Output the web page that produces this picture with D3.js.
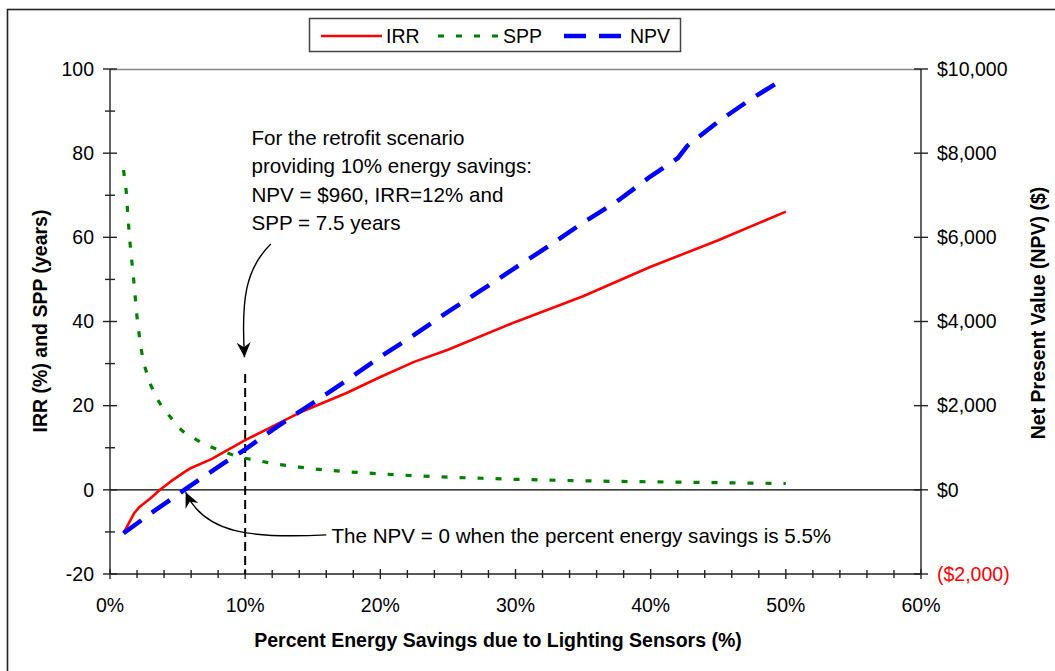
<!DOCTYPE html>
<html>
<head>
<meta charset="utf-8">
<script src="https://cdn.jsdelivr.net/npm/d3@7"></script>
<style>
  html, body { margin: 0; padding: 0; background: #fff; }
  svg { display: block; font-family: "Liberation Sans", Arial, sans-serif; }
</style>
</head>
<body>
<svg id="chart" width="1055" height="671"></svg>
<script>
// ---- data ----
const irrX = [1, 1.8, 2.2, 3, 3.7, 4.5, 5.5, 6, 7.5, 10, 12, 14, 17.5, 20, 22.5, 25, 30, 35, 40, 45, 50];
const irrY = [-10.3, -5.5, -4, -2, 0, 2, 4.2, 5.2, 7.3, 11.8, 15, 18.3, 23, 26.8, 30.4, 33.3, 39.9, 46, 53, 59.3, 66.1];

const sppX = [1, 1.2, 1.35, 1.5, 1.75, 2, 2.25, 2.5, 3, 3.5, 4, 4.5, 5, 5.5, 6, 7, 8, 9, 10, 11, 12, 13, 14, 15, 17.5, 20, 22.5, 25, 27.5, 30, 32.5, 35, 37.5, 40, 42.5, 45, 47.5, 50];
const sppY = [76, 71, 64, 58, 50, 41, 34.5, 30, 25, 21.5, 19, 17.2, 15, 13.6, 12.6, 10.8, 9.5, 8.4, 7.5, 6.9, 6.3, 5.8, 5.4, 5.0, 4.3, 3.8, 3.35, 3.0, 2.75, 2.5, 2.3, 2.15, 2.0, 1.9, 1.8, 1.7, 1.6, 1.5];

const npvX = [1, 2, 3, 4, 5.5, 7, 8.5, 10, 12, 14, 15, 17.5, 20, 22.5, 25, 27.5, 30, 32.5, 35, 37.5, 40, 42, 42.7, 45, 47.3, 50];
const npvY = [-1030, -800, -560, -340, 0, 330, 650, 960, 1420, 1850, 2060, 2600, 3160, 3680, 4230, 4750, 5280, 5800, 6350, 6850, 7450, 7880, 8170, 8750, 9260, 9800];

const xTicks = [0, 10, 20, 30, 40, 50, 60];
const leftTicks = [-20, 0, 20, 40, 60, 80, 100];
const rightTicks = [-2000, 0, 2000, 4000, 6000, 8000, 10000];
const seriesNames = ["IRR", "SPP", "NPV"];

const note1 = ["For the retrofit scenario", "providing 10% energy savings:", "NPV = $960, IRR=12% and", "SPP = 7.5 years"];
const note2 = "The NPV = 0 when the percent energy savings is 5.5%";

// ---- layout ----
const svg = d3.select("#chart");
const L = 110, R = 921, T = 69, B = 574;
const x = d3.scaleLinear().domain([0, 60]).range([L, R]);
const yL = d3.scaleLinear().domain([-20, 100]).range([B, T]);
const yR = d3.scaleLinear().domain([-2000, 10000]).range([B, T]);
const FS = 19.5;
const AFS = 20.6;

// outer frame
svg.append("rect").attr("x", 7.5).attr("y", 9.5).attr("width", 1060).attr("height", 680)
  .attr("fill", "none").attr("stroke", "#222").attr("stroke-width", 1.6);

// plot top border
svg.append("line").attr("x1", L).attr("x2", R).attr("y1", T + 0.5).attr("y2", T + 0.5)
  .attr("stroke", "#888").attr("stroke-width", 1.3);

// zero line
svg.append("line").attr("x1", L).attr("x2", R).attr("y1", yL(0)).attr("y2", yL(0))
  .attr("stroke", "#000").attr("stroke-width", 1.2);

// axes lines
const axisG = svg.append("g").attr("stroke", "#222").attr("stroke-width", 1.4);
axisG.append("line").attr("x1", L).attr("x2", L).attr("y1", T).attr("y2", B);
axisG.append("line").attr("x1", R).attr("x2", R).attr("y1", T).attr("y2", B);
axisG.append("line").attr("x1", L).attr("x2", R).attr("y1", B).attr("y2", B);

// left ticks (major every 20, minor every 10)
d3.range(-20, 101, 10).forEach(v => {
  const major = v % 20 === 0;
  const h = major ? 7 : 5;
  axisG.append("line").attr("x1", L - h).attr("x2", L + h).attr("y1", yL(v)).attr("y2", yL(v));
});
// right ticks
rightTicks.forEach(v => {
  axisG.append("line").attr("x1", R - 7).attr("x2", R + 7).attr("y1", yR(v)).attr("y2", yR(v));
});
// bottom ticks every 2%
d3.range(0, 61, 2).forEach(v => {
  const h = v % 10 === 0 ? 5 : 4;
  axisG.append("line").attr("x1", x(v)).attr("x2", x(v)).attr("y1", B - h).attr("y2", B + h);
});

// tick labels
svg.append("g").selectAll("text").data(leftTicks).join("text")
  .attr("x", L - 16).attr("y", d => yL(d)).attr("dy", "0.35em")
  .attr("text-anchor", "end").attr("font-size", FS).attr("fill", "#000")
  .text(d => d);
const fmtMoney = d => d < 0 ? "($" + d3.format(",")(-d) + ")" : "$" + d3.format(",")(d);
svg.append("g").selectAll("text").data(rightTicks).join("text")
  .attr("x", R + 16).attr("y", d => yR(d)).attr("dy", "0.35em")
  .attr("text-anchor", "start").attr("font-size", FS)
  .attr("fill", d => d < 0 ? "#ff0000" : "#000")
  .text(fmtMoney);
svg.append("g").selectAll("text").data(xTicks).join("text")
  .attr("x", d => x(d)).attr("y", B + 38)
  .attr("text-anchor", "middle").attr("font-size", FS).attr("fill", "#000")
  .text(d => d + "%");

// axis titles
svg.append("text").attr("x", 498).attr("y", 647).attr("text-anchor", "middle")
  .attr("font-size", FS).attr("font-weight", "bold").text("Percent Energy Savings due to Lighting Sensors (%)");
svg.append("text").attr("transform", "translate(47,321) rotate(-90)").attr("text-anchor", "middle")
  .attr("font-size", FS).attr("font-weight", "bold").text("IRR (%) and SPP (years)");
svg.append("text").attr("transform", "translate(1045,313) rotate(-90)").attr("text-anchor", "middle")
  .attr("font-size", FS).attr("font-weight", "bold").text("Net Present Value (NPV) ($)");

// dashed vertical line at 10%
svg.append("line").attr("x1", x(10)).attr("x2", x(10)).attr("y1", yL(27.5)).attr("y2", B)
  .attr("stroke", "#000").attr("stroke-width", 2).attr("stroke-dasharray", "9,5");

// series
const lineL = d3.line().x(d => x(d[0])).y(d => yL(d[1]));
const lineR = d3.line().x(d => x(d[0])).y(d => yR(d[1]));
svg.append("path").datum(sppX.map((v, i) => [v, sppY[i]])).attr("d", lineL)
  .attr("fill", "none").attr("stroke", "#008000").attr("stroke-width", 3.2)
  .attr("stroke-dasharray", "6,12");
svg.append("path").datum(irrX.map((v, i) => [v, irrY[i]])).attr("d", lineL)
  .attr("fill", "none").attr("stroke", "#ff0000").attr("stroke-width", 2.6)
  .attr("stroke-linejoin", "round");
svg.append("path").datum(npvX.map((v, i) => [v, npvY[i]])).attr("d", lineR)
  .attr("fill", "none").attr("stroke", "#0000ff").attr("stroke-width", 4.5)
  .attr("stroke-dasharray", "22,13");

// arrow marker
const defs = svg.append("defs");
defs.append("marker").attr("id", "ah").attr("viewBox", "-16 -8 18 16")
  .attr("refX", 0).attr("refY", 0).attr("markerWidth", 18).attr("markerHeight", 16)
  .attr("markerUnits", "userSpaceOnUse").attr("orient", "auto")
  .append("path").attr("d", "M0,0 L-15,-7 L-10,0 L-15,7 Z").attr("fill", "#000");

// annotation 1
const t1 = svg.append("text").attr("font-size", AFS).attr("fill", "#000");
note1.forEach((s, i) => t1.append("tspan").attr("x", 251.5).attr("y", 145 + i * 28.4).text(s));
const p1 = d3.path();
p1.moveTo(x(11.9), yL(58.4));
p1.bezierCurveTo(x(10.0), yL(52.5), x(9.7), yL(45), x(9.95), yL(31.5));
svg.append("path").attr("d", p1.toString()).attr("fill", "none").attr("stroke", "#000")
  .attr("stroke-width", 1.4).attr("marker-end", "url(#ah)");

// annotation 2
svg.append("text").attr("x", 331.5).attr("y", 543).attr("font-size", AFS).attr("fill", "#000").text(note2);
const p2 = d3.path();
p2.moveTo(x(16.0), yL(-10.7));
p2.bezierCurveTo(x(10.5), yL(-11.6), x(7.0), yL(-10.5), x(5.6), yL(-0.6));
svg.append("path").attr("d", p2.toString()).attr("fill", "none").attr("stroke", "#000")
  .attr("stroke-width", 1.4).attr("marker-end", "url(#ah)");

// legend
const lg = svg.append("g");
lg.append("rect").attr("x", 309.5).attr("y", 18.5).attr("width", 371).attr("height", 33)
  .attr("fill", "#fff").attr("stroke", "#444").attr("stroke-width", 1.5);
const legItems = [
  { name: seriesNames[0], color: "#ff0000", w: 2.6, dash: null, x1: 321, x2: 382, tx: 386 },
  { name: seriesNames[1], color: "#008000", w: 3.2, dash: "6,12", x1: 438, x2: 501, tx: 503 },
  { name: seriesNames[2], color: "#0000ff", w: 4.5, dash: "22,13", x1: 564, x2: 622, tx: 630 }
];
legItems.forEach(d => {
  lg.append("line").attr("x1", d.x1).attr("x2", d.x2).attr("y1", 36).attr("y2", 36)
    .attr("stroke", d.color).attr("stroke-width", d.w).attr("stroke-dasharray", d.dash);
  lg.append("text").attr("x", d.tx).attr("y", 36).attr("dy", "0.35em").attr("font-size", FS).text(d.name);
});
</script>
</body>
</html>
